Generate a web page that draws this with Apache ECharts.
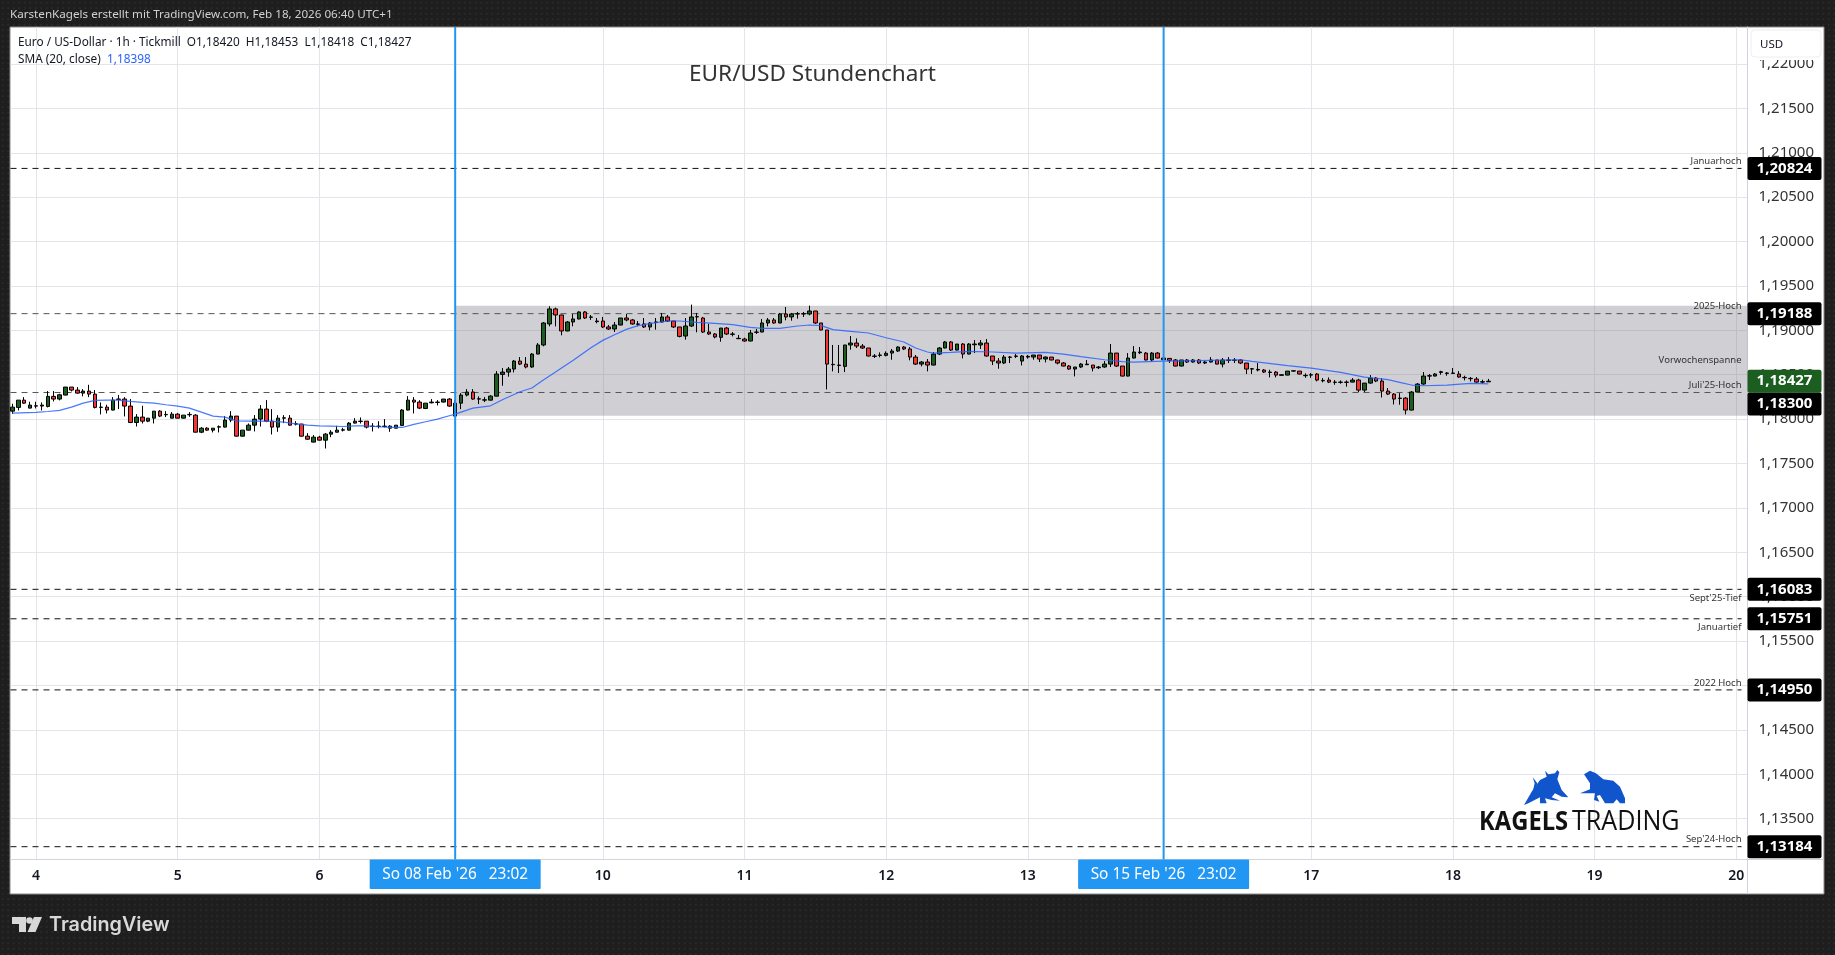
<!DOCTYPE html>
<html><head><meta charset="utf-8">
<style>html,body{margin:0;padding:0;background:#1e1e1e}#c{width:1835px;height:955px;background-color:#1e1e1e;background-image:radial-gradient(#2a2a2a 0.7px,transparent 0.9px);background-size:5.5px 5.5px}</style>
<script src="https://cdn.jsdelivr.net/npm/echarts@6/dist/echarts.min.js"></script>
</head><body><div id="c"></div>
<script>
const firstBar = -4;
const opens = [1.18090,1.18132,1.18214,1.18124,1.18147,1.18147,1.18143,1.18256,1.18226,1.18271,
1.18361,1.18327,1.18293,1.18316,1.18282,1.18132,1.18135,1.18102,1.18222,1.18226,
1.18147,1.17962,1.18023,1.17977,1.18011,1.18090,1.18049,1.18011,1.18056,1.18011,
1.18049,1.18045,1.17853,1.17898,1.17876,1.17910,1.17910,1.17989,1.18034,1.17808,
1.17876,1.17932,1.18000,1.18113,1.17977,1.17910,1.18011,1.18011,1.17944,1.17944,
1.17808,1.17741,1.17797,1.17763,1.17831,1.17853,1.17876,1.17876,1.17955,1.17974,
1.17977,1.17917,1.17917,1.17917,1.17921,1.17898,1.17929,1.18102,1.18214,1.18192,
1.18120,1.18184,1.18188,1.18192,1.18226,1.18034,1.18180,1.18271,1.18305,1.18226,
1.18214,1.18214,1.18259,1.18504,1.18530,1.18564,1.18654,1.18620,1.18587,1.18733,
1.18835,1.19072,1.19241,1.19173,1.18993,1.19094,1.19128,1.19207,1.19147,1.19098,
1.19105,1.19038,1.19015,1.19060,1.19139,1.19117,1.19068,1.19072,1.19038,1.19090,
1.19094,1.19151,1.19105,1.19038,1.18936,1.19049,1.19151,1.19139,1.18981,1.18959,
1.18921,1.19026,1.18955,1.18906,1.18902,1.18880,1.18978,1.18981,1.19083,1.19117,
1.19083,1.19184,1.19151,1.19184,1.19184,1.19184,1.19218,1.19083,1.19004,1.18613,
1.18605,1.18594,1.18835,1.18857,1.18823,1.18801,1.18707,1.18718,1.18718,1.18744,
1.18767,1.18812,1.18790,1.18699,1.18620,1.18643,1.18609,1.18733,1.18801,1.18869,
1.18778,1.18846,1.18733,1.18838,1.18835,1.18857,1.18711,1.18654,1.18632,1.18696,
1.18707,1.18654,1.18699,1.18699,1.18722,1.18677,1.18699,1.18666,1.18632,1.18598,
1.18564,1.18587,1.18613,1.18609,1.18579,1.18587,1.18620,1.18744,1.18598,1.18485,
1.18688,1.18748,1.18744,1.18666,1.18744,1.18669,1.18684,1.18666,1.18598,1.18666,
1.18643,1.18666,1.18632,1.18643,1.18666,1.18620,1.18662,1.18662,1.18666,1.18632,
1.18564,1.18553,1.18553,1.18526,1.18530,1.18493,1.18496,1.18541,1.18541,1.18489,
1.18496,1.18508,1.18432,1.18440,1.18414,1.18414,1.18414,1.18417,1.18440,1.18327,
1.18406,1.18462,1.18429,1.18316,1.18282,1.18233,1.18237,1.18102,1.18305,1.18395,
1.18485,1.18485,1.18526,1.18515,1.18515,1.18508,1.18466,1.18455,1.18451,1.18417,
1.18420];
const highs = [1.18173,1.18214,1.18248,1.18196,1.18196,1.18188,1.18316,1.18316,1.18286,1.18361,
1.18361,1.18361,1.18338,1.18387,1.18327,1.18188,1.18162,1.18248,1.18271,1.18248,
1.18226,1.18056,1.18150,1.18011,1.18090,1.18102,1.18090,1.18079,1.18068,1.18045,
1.18079,1.18056,1.17910,1.17910,1.17898,1.17929,1.18034,1.18090,1.18034,1.17876,
1.17951,1.18045,1.18158,1.18214,1.18113,1.18045,1.18045,1.18045,1.17977,1.17947,
1.17842,1.17820,1.17812,1.17842,1.17876,1.17925,1.17902,1.17966,1.18011,1.18019,
1.17977,1.17955,1.17977,1.18000,1.17932,1.17932,1.18113,1.18259,1.18248,1.18214,
1.18180,1.18226,1.18214,1.18226,1.18237,1.18214,1.18293,1.18338,1.18338,1.18256,
1.18248,1.18271,1.18541,1.18575,1.18587,1.18666,1.18699,1.18699,1.18744,1.18857,
1.19094,1.19271,1.19256,1.19173,1.19105,1.19184,1.19214,1.19218,1.19173,1.19139,
1.19151,1.19060,1.19094,1.19139,1.19184,1.19128,1.19105,1.19139,1.19094,1.19139,
1.19196,1.19173,1.19105,1.19038,1.19139,1.19290,1.19196,1.19151,1.19072,1.18970,
1.19026,1.19038,1.18981,1.18948,1.18917,1.19004,1.19015,1.19128,1.19139,1.19139,
1.19196,1.19263,1.19196,1.19207,1.19207,1.19278,1.19218,1.19083,1.19004,1.18835,
1.18835,1.18835,1.18936,1.18910,1.18846,1.18801,1.18733,1.18752,1.18763,1.18790,
1.18820,1.18823,1.18812,1.18722,1.18654,1.18677,1.18756,1.18812,1.18880,1.18880,
1.18846,1.18857,1.18857,1.18891,1.18891,1.18902,1.18711,1.18688,1.18722,1.18711,
1.18733,1.18722,1.18722,1.18722,1.18722,1.18707,1.18699,1.18666,1.18643,1.18609,
1.18587,1.18632,1.18666,1.18609,1.18598,1.18654,1.18846,1.18744,1.18598,1.18744,
1.18823,1.18812,1.18756,1.18756,1.18756,1.18722,1.18684,1.18677,1.18666,1.18677,
1.18677,1.18677,1.18654,1.18699,1.18666,1.18688,1.18699,1.18688,1.18677,1.18632,
1.18575,1.18632,1.18564,1.18556,1.18541,1.18500,1.18541,1.18545,1.18541,1.18515,
1.18519,1.18519,1.18462,1.18470,1.18440,1.18436,1.18436,1.18462,1.18455,1.18406,
1.18496,1.18474,1.18462,1.18350,1.18293,1.18293,1.18248,1.18316,1.18406,1.18530,
1.18508,1.18519,1.18545,1.18530,1.18575,1.18541,1.18489,1.18474,1.18474,1.18444,
1.18453];
const lows = [1.18060,1.18098,1.18173,1.18120,1.18120,1.18098,1.18132,1.18199,1.18211,1.18267,
1.18312,1.18286,1.18256,1.18248,1.18120,1.18053,1.18064,1.18098,1.18113,1.18030,
1.17955,1.17917,1.17951,1.17966,1.17951,1.18023,1.18023,1.18008,1.18008,1.18008,
1.18026,1.17850,1.17842,1.17868,1.17850,1.17850,1.17906,1.17966,1.17804,1.17804,
1.17872,1.17861,1.17917,1.17966,1.17827,1.17857,1.17955,1.17929,1.17929,1.17804,
1.17767,1.17737,1.17759,1.17669,1.17797,1.17850,1.17861,1.17872,1.17951,1.17951,
1.17895,1.17861,1.17895,1.17906,1.17857,1.17895,1.17925,1.18098,1.18064,1.18113,
1.18113,1.18177,1.18154,1.18188,1.18139,1.18030,1.18113,1.18256,1.18218,1.18169,
1.18192,1.18211,1.18256,1.18376,1.18478,1.18526,1.18609,1.18572,1.18579,1.18729,
1.18820,1.19045,1.19045,1.18944,1.18989,1.19045,1.19124,1.19128,1.19117,1.19079,
1.19026,1.19004,1.18981,1.19057,1.19102,1.19064,1.19045,1.19026,1.19000,1.19008,
1.19090,1.19094,1.19026,1.18921,1.18895,1.19038,1.18978,1.18970,1.18948,1.18910,
1.18872,1.18948,1.18932,1.18902,1.18872,1.18876,1.18959,1.18978,1.19045,1.19075,
1.19079,1.19113,1.19109,1.19132,1.19151,1.19169,1.19072,1.19000,1.18335,1.18538,
1.18519,1.18530,1.18782,1.18801,1.18790,1.18707,1.18688,1.18696,1.18707,1.18669,
1.18756,1.18778,1.18662,1.18609,1.18594,1.18538,1.18605,1.18722,1.18797,1.18767,
1.18775,1.18684,1.18729,1.18744,1.18790,1.18703,1.18609,1.18568,1.18620,1.18632,
1.18688,1.18605,1.18681,1.18669,1.18643,1.18639,1.18662,1.18617,1.18594,1.18556,
1.18481,1.18575,1.18609,1.18538,1.18564,1.18579,1.18587,1.18587,1.18481,1.18481,
1.18684,1.18733,1.18662,1.18650,1.18684,1.18662,1.18632,1.18594,1.18594,1.18632,
1.18636,1.18620,1.18620,1.18639,1.18617,1.18583,1.18632,1.18632,1.18620,1.18508,
1.18508,1.18538,1.18519,1.18470,1.18470,1.18489,1.18493,1.18534,1.18504,1.18466,
1.18466,1.18425,1.18414,1.18406,1.18387,1.18399,1.18365,1.18414,1.18305,1.18305,
1.18399,1.18417,1.18244,1.18271,1.18165,1.18162,1.18053,1.18098,1.18301,1.18387,
1.18440,1.18481,1.18500,1.18489,1.18508,1.18466,1.18436,1.18425,1.18410,1.18399,
1.18418];
const closes = [1.18135,1.18214,1.18180,1.18158,1.18150,1.18158,1.18256,1.18226,1.18274,1.18361,
1.18327,1.18293,1.18316,1.18282,1.18132,1.18135,1.18102,1.18214,1.18226,1.18147,
1.17962,1.18023,1.17977,1.18011,1.18090,1.18034,1.18053,1.18056,1.18011,1.18045,
1.18053,1.17853,1.17898,1.17876,1.17898,1.17914,1.17989,1.18034,1.17808,1.17876,
1.17932,1.18000,1.18113,1.17977,1.17910,1.18011,1.18015,1.17932,1.17947,1.17808,
1.17774,1.17797,1.17763,1.17831,1.17853,1.17876,1.17880,1.17955,1.17977,1.17977,
1.17910,1.17921,1.17921,1.17921,1.17898,1.17932,1.18102,1.18214,1.18192,1.18124,
1.18180,1.18192,1.18192,1.18226,1.18147,1.18180,1.18271,1.18305,1.18226,1.18229,
1.18218,1.18259,1.18508,1.18530,1.18564,1.18654,1.18620,1.18587,1.18733,1.18835,
1.19083,1.19241,1.19173,1.18993,1.19094,1.19128,1.19207,1.19139,1.19151,1.19105,
1.19038,1.19015,1.19060,1.19139,1.19117,1.19072,1.19072,1.19038,1.19083,1.19094,
1.19151,1.19105,1.19038,1.18932,1.19049,1.19151,1.19154,1.18981,1.18959,1.18925,
1.19026,1.18959,1.18959,1.18910,1.18880,1.18970,1.18981,1.19083,1.19117,1.19083,
1.19184,1.19151,1.19184,1.19188,1.19188,1.19218,1.19083,1.19004,1.18620,1.18617,
1.18609,1.18835,1.18857,1.18823,1.18801,1.18711,1.18711,1.18722,1.18741,1.18767,
1.18812,1.18790,1.18699,1.18620,1.18643,1.18609,1.18733,1.18801,1.18869,1.18778,
1.18846,1.18733,1.18846,1.18846,1.18857,1.18711,1.18654,1.18632,1.18699,1.18699,
1.18711,1.18711,1.18707,1.18722,1.18677,1.18699,1.18666,1.18632,1.18598,1.18564,
1.18587,1.18620,1.18620,1.18575,1.18587,1.18620,1.18744,1.18598,1.18485,1.18688,
1.18756,1.18756,1.18666,1.18744,1.18688,1.18688,1.18662,1.18598,1.18666,1.18643,
1.18666,1.18632,1.18643,1.18666,1.18620,1.18666,1.18666,1.18666,1.18632,1.18564,
1.18568,1.18560,1.18530,1.18530,1.18496,1.18500,1.18541,1.18545,1.18508,1.18493,
1.18500,1.18440,1.18436,1.18417,1.18417,1.18417,1.18417,1.18440,1.18327,1.18406,
1.18462,1.18429,1.18316,1.18282,1.18226,1.18237,1.18102,1.18305,1.18395,1.18485,
1.18489,1.18508,1.18534,1.18519,1.18519,1.18474,1.18470,1.18459,1.18417,1.18421,
1.18427];
const smaBars = [-4,0,2,4,6,8,10,12,14,16,18,20,22,24,26,28,30,32,34,36,38,40,42,44,46,48,50,52,54,56,58,60,62,64,66,68,70,71,
74,77,79,82,84,86,88,91,94,96,98,100,102,104,107,109,112,115,118,121,123,126,129,131,133,135,138,141,144,147,149,151,152,155,158,162,166,171,174,177,181,184,186,191,197,204,206,212,216,221,225,227,229,231,233,235,239,243,246];
const smaValues = [1.18068,1.18075,1.18086,1.18098,1.18135,1.18180,1.18211,1.18214,1.18214,1.18199,1.18188,1.18180,1.18162,1.18147,1.18124,1.18079,1.18034,1.18023,1.17981,1.17977,1.17977,1.17974,1.17966,1.17947,1.17932,1.17925,1.17921,1.17917,1.17925,1.17925,1.17914,1.17906,1.17906,1.17940,1.17970,1.18000,1.18038,1.18056,
1.18124,1.18150,1.18218,1.18308,1.18350,1.18444,1.18530,1.18662,1.18805,1.18887,1.18951,1.19011,1.19053,1.19075,1.19105,1.19105,1.19090,1.19079,1.19064,1.19034,1.19023,1.19023,1.19049,1.19060,1.19053,1.19008,1.18989,1.18970,1.18917,1.18869,1.18801,1.18756,1.18744,1.18752,1.18763,1.18756,1.18744,1.18752,1.18733,1.18703,1.18669,1.18647,1.18643,1.18654,1.18658,1.18669,1.18650,1.18602,1.18575,1.18526,1.18474,1.18459,1.18444,1.18414,1.18384,1.18376,1.18384,1.18402,1.18398];
const dayTicks = [0,24,48,71,96,120,144,168,191,216,240,264,288];
const dayLabels = ['4','5','6','9','10','11','12','13','16','17','18','19','20'];
const priceTicks = [1.135,1.14,1.145,1.15,1.155,1.16,1.165,1.17,1.175,1.18,1.185,1.19,1.195,1.2,1.205,1.21,1.215,1.22];
const levelValues = [1.20824,1.19188,1.18300,1.16083,1.15751,1.14950,1.13184];
const levelNames = ['Januarhoch','2025-Hoch',"Juli'25-Hoch","Sept'25-Tief",'Januartief','2022 Hoch',"Sep'24-Hoch"];
const zoneBars = [71,290];
const zoneValues = [1.18038,1.19278];
const zoneName = 'Vorwochenspanne';
const lastClose = 1.18427;
const eventBars = [71,191];
const eventLabels = ["So 08 Feb '26   23:02","So 15 Feb '26   23:02"];

const FONT='"Noto Sans",sans-serif';
const X_MIN=-4.32, X_MAX=289.9, Y_MIN=1.130397, Y_MAX=1.224168;
const fmt=v=>v.toFixed(5).replace('.',',');
const barsData=opens.map((o,k)=>[firstBar+k,o,closes[k],lows[k],highs[k]]);
const RIGHT=1747.5, BOTTOM=859.5, TOP=27;
// TradingView pushes the lower tag down so neighbouring price tags do not overlap
const tagShift={[fmt(1.18300)]:11.5};
function tag(y,val,color){
  const cy=y+(tagShift[fmt(val)]||0);
  return [{type:'rect',shape:{x:RIGHT,y:cy-11.5,width:74,height:23,r:2},style:{fill:color}},
    {type:'text',style:{x:RIGHT+37,y:cy,text:fmt(val),fill:'#fff',font:'700 15px '+FONT,align:'center',verticalAlign:'middle'}}];
}
const logoBlue='#1155cc';
const P=(pts,fill)=>({type:'polygon',z:9,shape:{points:pts},style:{fill}});
const L=(x,y)=>[1440+x/3,740+y/3];
const option={
  backgroundColor:'transparent',animation:false,
  grid:{left:10.5,top:TOP,width:RIGHT-10.5,height:BOTTOM-TOP,show:false},
  xAxis:{type:'value',min:X_MIN,max:X_MAX,
    axisLine:{show:true,onZero:false,lineStyle:{color:'#d1d4dc',width:1}},
    axisTick:{show:false,customValues:dayTicks},
    axisLabel:{customValues:dayTicks,color:'#131722',fontFamily:FONT,fontWeight:600,fontSize:14,margin:10,
      formatter:v=>dayLabels[dayTicks.indexOf(v)]||''},
    splitLine:{show:true,lineStyle:{color:'#e4e5ea',width:1}}},
  yAxis:{type:'value',position:'right',min:Y_MIN,max:Y_MAX,scale:true,
    axisLine:{show:true,onZero:false,lineStyle:{color:'#d1d4dc',width:1}},
    axisTick:{show:false,customValues:priceTicks},
    axisLabel:{customValues:priceTicks,color:'#333',fontFamily:FONT,fontSize:15,margin:11,formatter:v=>fmt(v)},
    splitLine:{show:true,lineStyle:{color:'#e4e5ea',width:1}}},
  series:[
    {type:'custom',name:'zone',z:1,silent:true,data:[[zoneBars[0],zoneValues[0],zoneBars[1],zoneValues[1]]],encode:{x:[0,2],y:[1,3]},
      renderItem:(p,api)=>{
        const a=api.coord([api.value(0),api.value(3)]),b=api.coord([X_MAX,api.value(1)]);
        return {type:'group',children:[
          {type:'rect',shape:{x:a[0],y:a[1],width:b[0]-a[0],height:b[1]-a[1]},style:{fill:'rgba(125,122,135,0.36)'}},
          {type:'text',style:{x:RIGHT-6,y:a[1]+55,text:zoneName,fill:'#333',font:'9.5px '+FONT,align:'right',verticalAlign:'middle'}}]};
      }},
    {type:'custom',name:'levels',z:3,silent:true,data:levelValues.map((v,k)=>[0,v,k]),encode:{x:0,y:1},
      renderItem:(p,api)=>{
        const v=api.value(1),k=api.value(2),y=api.coord([0,v])[1];
        const below=v>1.157&&v<1.161, inZone=v>1.18&&v<1.193;
        return {type:'group',children:[
          {type:'line',shape:{x1:10.5,y1:y,x2:RIGHT-6,y2:y},style:{stroke:inZone?'#555':'#111',lineWidth:1,lineDash:[6,5]}},
          {type:'text',style:{x:RIGHT-6,y:below?y+9:y-7,text:levelNames[k],fill:'#333',font:'9.5px '+FONT,align:'right',verticalAlign:'middle'}},
          ...tag(y,v,'#000')]};
      }},
    {type:'candlestick',name:'EUR/USD',z:4,data:barsData,barWidth:4,silent:true,
      itemStyle:{color:'#1b5e20',color0:'#f5352f',borderColor:'#000',borderColor0:'#000',borderColorDoji:'#000',borderWidth:1}},
    {type:'line',name:'SMA (20, close)',z:5,silent:true,showSymbol:false,data:smaBars.map((b,k)=>[b,smaValues[k]]),lineStyle:{color:'#2962ff',width:1.2,opacity:.85}},
    {type:'custom',name:'last',z:6,silent:true,data:[[0,lastClose]],encode:{x:0,y:1},
      renderItem:(p,api)=>({type:'group',children:tag(api.coord([0,api.value(1)])[1],lastClose,'#1b5e20')})},
    {type:'custom',name:'events',z:7,silent:true,data:eventBars.map((b,k)=>[b,Y_MIN,k]),encode:{x:0},
      renderItem:(p,api)=>{
        const x=api.coord([api.value(0),Y_MIN])[0],k=api.value(2);
        return {type:'group',children:[
          {type:'line',shape:{x1:x,y1:TOP,x2:x,y2:BOTTOM},style:{stroke:'#2196f3',lineWidth:2}},
          {type:'rect',shape:{x:x-85.5,y:BOTTOM,width:171,height:29.5,r:1},style:{fill:'#2196f3'}},
          {type:'text',style:{x:x,y:BOTTOM+15,text:eventLabels[k],fill:'#fff',font:'15.4px '+FONT,align:'center',verticalAlign:'middle'}}]};
      }}
  ],
  graphic:{elements:[
    {type:'rect',z:-1,silent:true,shape:{x:10,y:27,width:1814,height:867},style:{fill:'#fff',stroke:'#8a8a8a',lineWidth:1}},
    {type:'line',z:1,shape:{x1:RIGHT,y1:BOTTOM,x2:RIGHT,y2:894},style:{stroke:'#d1d4dc',lineWidth:1}},
    {type:'line',z:1,shape:{x1:RIGHT,y1:BOTTOM,x2:1824,y2:BOTTOM},style:{stroke:'#d1d4dc',lineWidth:1}},
    {type:'text',z:9,style:{x:10,y:15,text:'KarstenKagels erstellt mit TradingView.com, Feb 18, 2026 06:40 UTC+1',fill:'#d0d0d0',font:'11.65px '+FONT,verticalAlign:'middle'}},
    {type:'text',z:9,style:{x:18,y:42.5,text:'Euro / US-Dollar · 1h · Tickmill  O1,18420  H1,18453  L1,18418  C1,18427',fill:'#131722',font:'11.8px '+FONT,verticalAlign:'middle'}},
    {type:'text',z:9,style:{x:18,y:59.5,text:'SMA (20, close)',fill:'#131722',font:'11.8px '+FONT,verticalAlign:'middle'}},
    {type:'text',z:9,style:{x:107,y:59.5,text:'1,18398',fill:'#2962ff',font:'11.8px '+FONT,verticalAlign:'middle'}},
    {type:'text',z:9,style:{x:689,y:74.5,text:'EUR/USD Stundenchart',fill:'#333',font:'22.6px '+FONT,verticalAlign:'middle'}},
    {type:'rect',z:8,shape:{x:1750,y:31,width:72,height:29},style:{fill:'#fff'}},
    {type:'rect',z:8,shape:{x:1751,y:30,width:70,height:27,r:4},style:{fill:'#fff',stroke:'#eee',lineWidth:1}},
    {type:'text',z:9,style:{x:1760,y:44.5,text:'USD',fill:'#131722',font:'11.5px '+FONT,verticalAlign:'middle'}},
    // Kagels Trading logo
    P([[252,195],[275,155],[300,120],[320,110],[315,92],[325,103],[345,100],[352,90],[358,97],[352,118],[365,150],[385,172],[365,170],[345,160],[335,172],[360,182],[335,180],[315,175],[320,190],[300,190],[300,172],[265,190]].map(q=>L(q[0],q[1])),logoBlue),
    P([[278,112],[292,130],[285,150],[278,155],[284,130]].map(q=>L(q[0],q[1])),logoBlue),
    P([[432,103],[450,92],[468,100],[490,118],[520,122],[540,140],[555,175],[555,190],[540,190],[530,178],[520,190],[495,190],[480,165],[470,168],[478,185],[462,180],[465,160],[420,160],[450,148],[450,130]].map(q=>L(q[0],q[1])),logoBlue),
    {type:'text',z:9,x:1479,y:822,scaleX:.88,style:{x:0,y:0,text:'KAGELS',fill:'#111',font:'700 27px "Open Sans",sans-serif',verticalAlign:'middle'}},
    {type:'text',z:9,x:1572,y:822,scaleX:.93,style:{x:0,y:0,text:'TRADING',fill:'#111',font:'400 27px "Open Sans",sans-serif',verticalAlign:'middle'}},
    // TradingView logo
    P([[12,917],[26,917],[26,932],[19,932],[19,924],[12,924]],'#d8d8d8'),
    {type:'circle',z:9,shape:{cx:29.5,cy:920.5,r:3.3},style:{fill:'#d8d8d8'}},
    P([[34,917],[42,917],[35.5,932],[27.5,932]],'#d8d8d8'),
    {type:'text',z:9,style:{x:49,y:925,text:'TradingView',fill:'#d8d8d8',font:'600 19.8px Inter,sans-serif',verticalAlign:'middle'}}
  ]}
};
echarts.init(document.getElementById('c')).setOption(option);
</script></body></html>
